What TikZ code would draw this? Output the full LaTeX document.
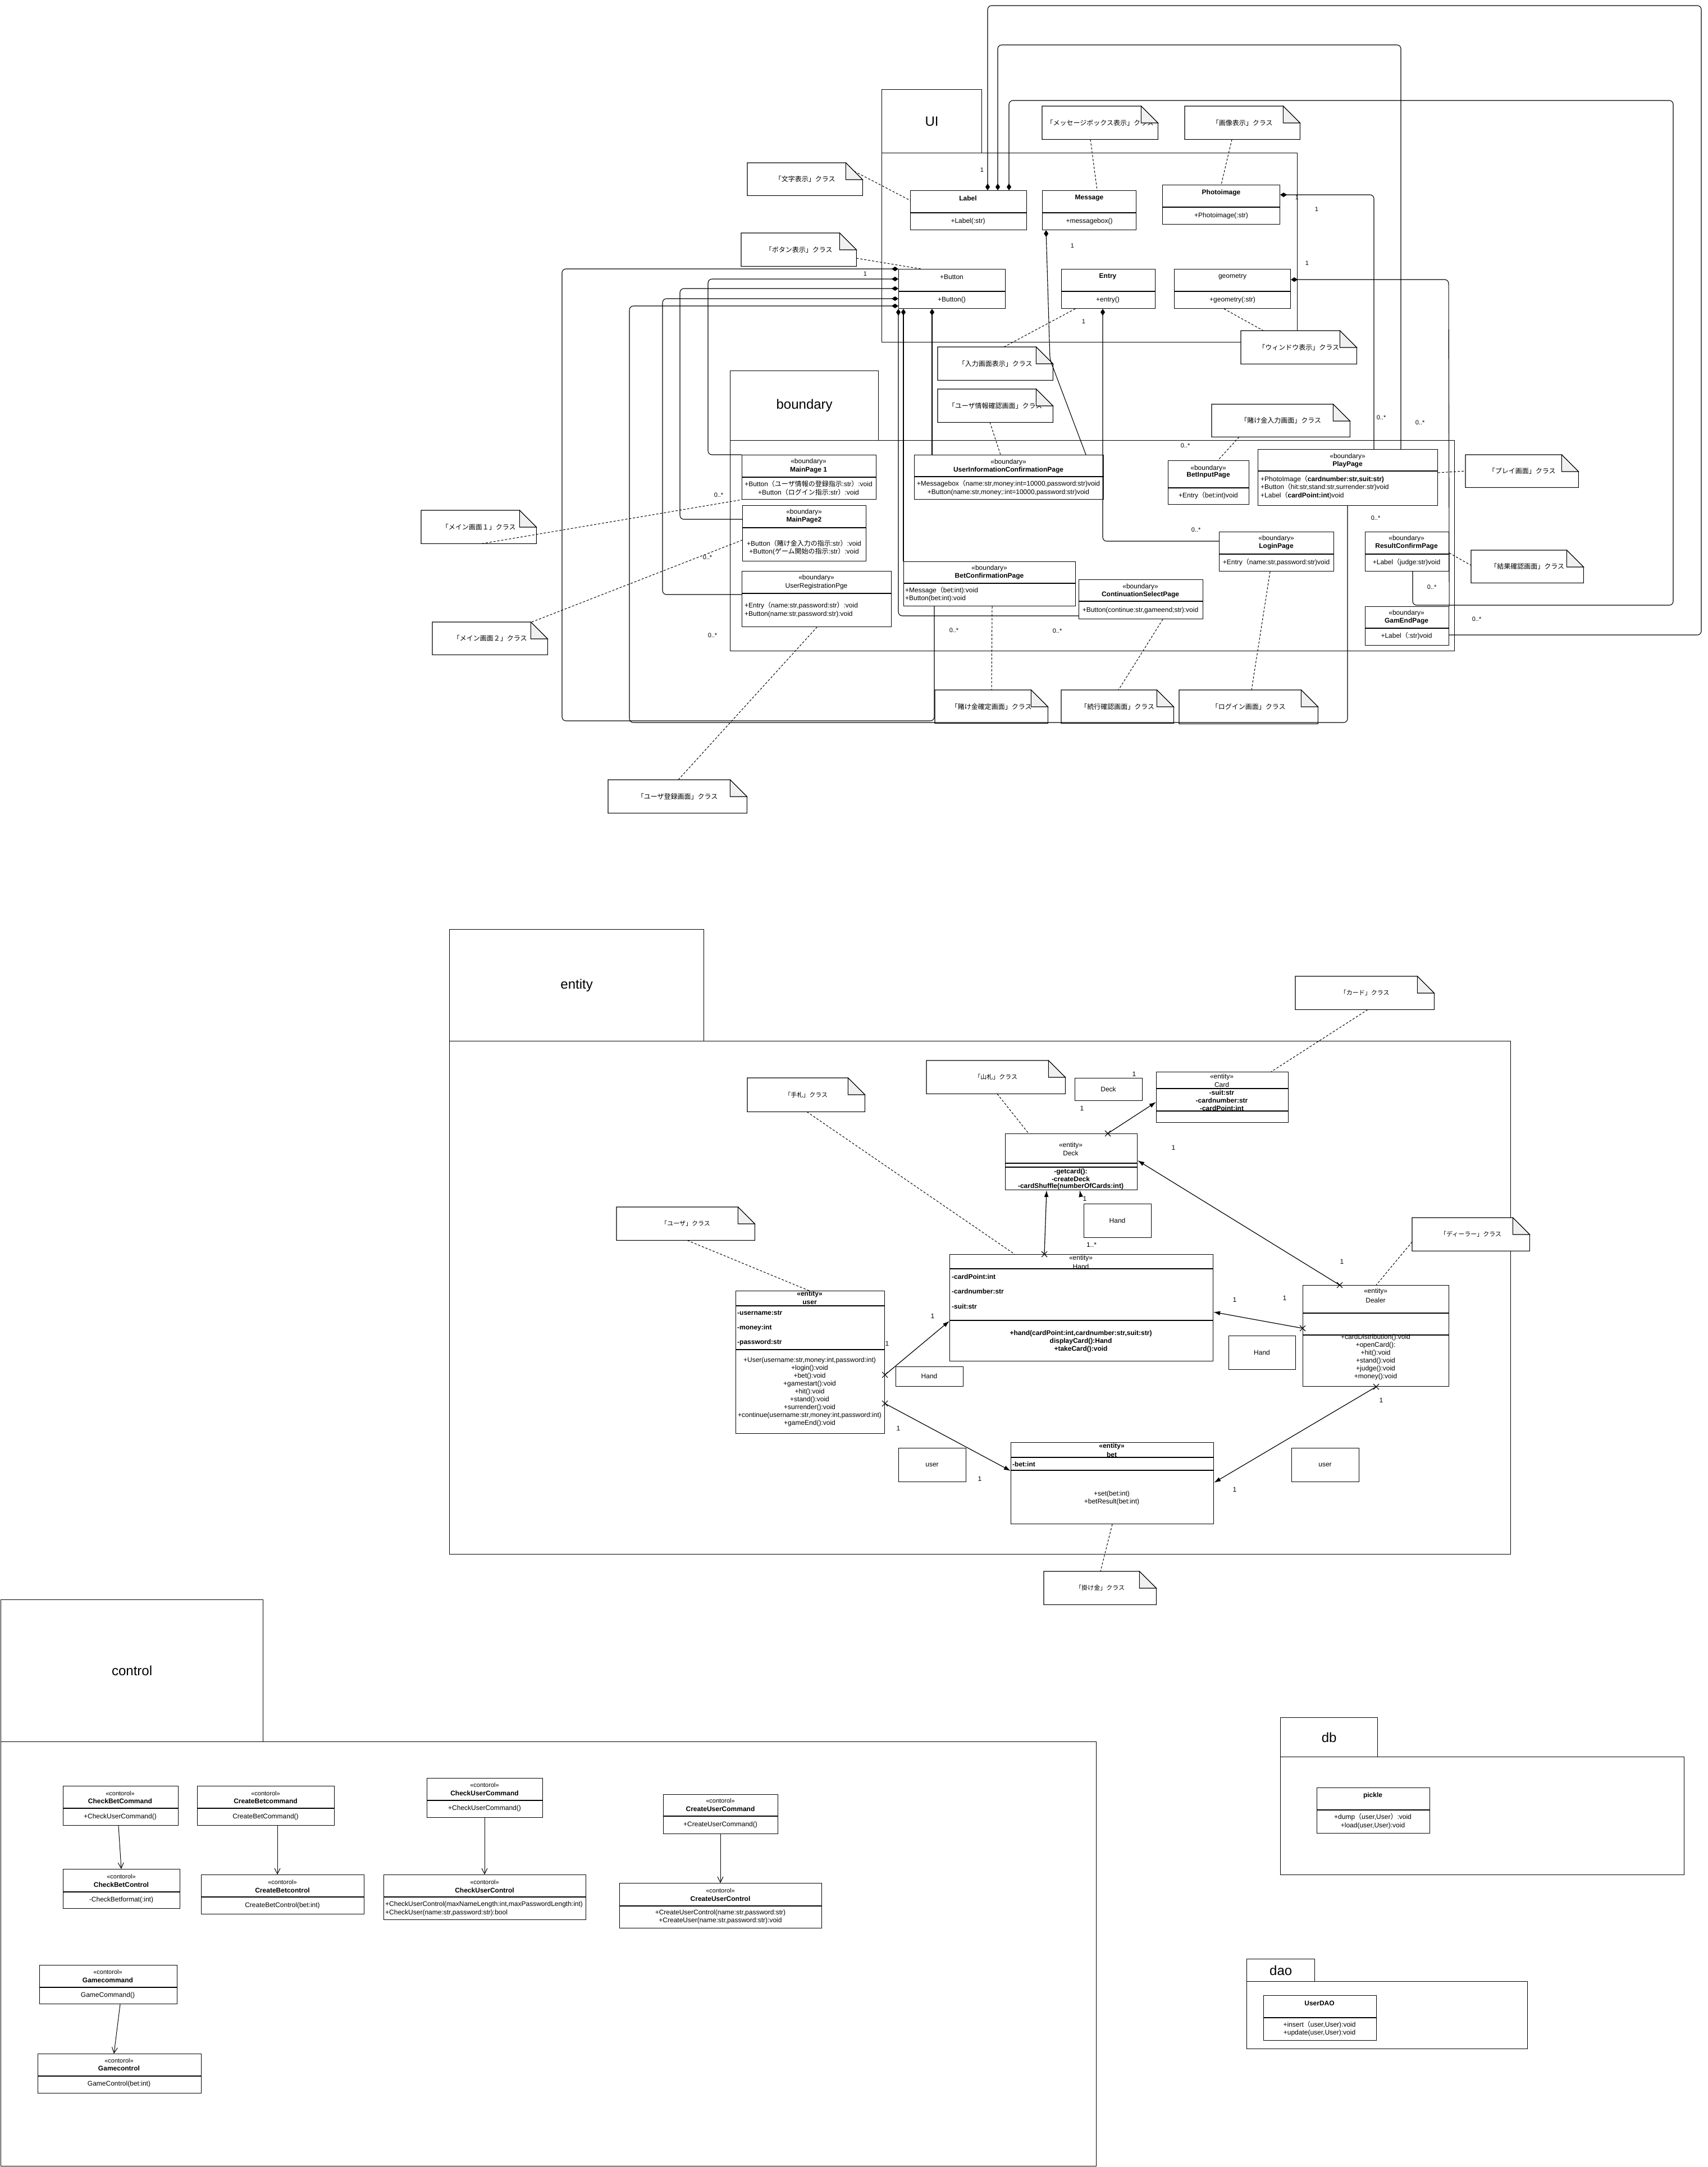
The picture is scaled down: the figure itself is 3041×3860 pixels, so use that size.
\documentclass[tikz,border=0pt]{standalone}
\usepackage{fontspec}
\setmainfont{Liberation Sans}
\newfontfamily\jp{Noto Sans CJK JP}
\usetikzlibrary{arrows.meta}

\newcounter{tn}
\newcommand\fs[1]{\fontsize{#1}{#1}\selectfont}
% text label: [options]{x,y}{text}
\newcommand\tx[3][]{\stepcounter{tn}\node[tx,#1] (tx\arabic{tn}) at (#2) {#3};}
% class box: name, x1, y1, x2, y2, divider ys
\newcommand\cls[6]{\node[box,minimum width={#4-#2},minimum height={#5-#3}] (#1) at (#2,#3) {};
  \foreach \dv in {#6} {\draw[divline] (#2,\dv) -- (#4,\dv);}}
% plain box with one centred word
\newcommand\plainbox[6]{\node[box,minimum width={#4-#2},minimum height={#5-#3}] (#1) at (#2,#3) {};
  \tx{{(#2+#4)/2},{(#3+#5)/2}}{#6}}
% package frame part
\newcommand\pkg[6]{\node[pkg,minimum width={#4-#2},minimum height={#5-#3}] (#1) at (#2,#3) {#6};}
% note with folded corner
\newcommand\note[6]{%
  \node[notebg,minimum width={#4-#2},minimum height={#5-#3}] (#1) at (#2,#3) {#6};
  \draw[noteline] (#1.north west) -- ([xshift=-30pt]#1.north east) -- ([yshift=-30pt]#1.north east)
     -- (#1.south east) -- (#1.south west) -- cycle;
  \filldraw[noteline,fill=gray!12] ([xshift=-30pt]#1.north east) -- ([xshift=-30pt,yshift=-30pt]#1.north east)
     -- ([yshift=-30pt]#1.north east) -- cycle;}

\tikzset{
  box/.style={draw,line width=1.1pt,fill=white,inner sep=0pt,anchor=north west},
  divline/.style={line width=1.1pt},
  pkg/.style={draw,line width=1.3pt,inner sep=0pt,anchor=north west,font=\fs{24}},
  notebg/.style={fill=white,inner sep=0pt,anchor=north west,font=\jp\fs{12}},
  noteline/.style={line width=1.1pt},
  tx/.style={inner sep=0pt,font=\fs{12}},
  comp/.style={line width=1.1pt,rounded corners=7pt,-{Diamond[length=12pt,width=8pt]}},
  assoc/.style={line width=1.2pt,-{Latex[length=12pt,width=8pt]}},
  dep/.style={line width=1pt,-{Straight Barb[length=10pt,width=10pt]}},
  notecon/.style={line width=1pt,dash pattern=on 4pt off 3pt},
  xmark/.pic={\draw[line width=1.1pt] (-5pt,-5pt) -- (5pt,5pt) (-5pt,5pt) -- (5pt,-5pt);}
}

\begin{document}
\begin{tikzpicture}[x=1pt,y=-1pt]
\useasboundingbox (0,0) rectangle (3041,3860);

% ---------------- packages ----------------
\pkg{uitab}{1570}{159}{1748}{272}{UI}
\pkg{uibody}{1570}{272}{2310}{609}{}
\pkg{bdtab}{1300}{660}{1564}{784}{boundary}
\pkg{bdbody}{1300}{784}{2590}{1159}{}
\pkg{entab}{800}{1655}{1253}{1854}{entity}
\pkg{enbody}{800}{1854}{2690}{2768}{}
\pkg{cttab}{1}{2849}{468}{3102}{control}
\pkg{ctbody}{1}{3102}{1952}{3858}{}
\pkg{dbtab}{2280}{3059}{2453}{3129}{db}
\pkg{dbbody}{2280}{3129}{2999}{3339}{}
\pkg{daotab}{2220}{3489}{2341}{3529}{dao}
\pkg{daobody}{2220}{3529}{2720}{3649}{}

% ---------------- notes ----------------
\note{n1}{1856}{189}{2062}{248}{「メッセージボックス表示」クラス}
\note{n2}{2110}{189}{2315}{248}{「画像表示」クラス}
\note{n3}{1331}{290}{1536}{348}{「文字表示」クラス}
\note{n4}{1320}{415}{1525}{474}{「ボタン表示」クラス}
\note{n5}{2210}{589}{2416}{648}{「ウィンドウ表示」クラス}
\note{n6}{1670}{618}{1875}{677}{「入力画面表示」クラス}
\note{n7}{1670}{693}{1875}{752}{「ユーザ情報確認画面」クラス}
\note{n8}{2158}{720}{2404}{778}{「賭け金入力画面」クラス}
\note{n9}{2610}{810}{2811}{868}{「プレイ画面」クラス}
\note{n10}{2620}{980}{2820}{1038}{「結果確認画面」クラス}
\note{n11}{2100}{1229}{2347}{1289}{「ログイン画面」クラス}
\note{n12}{1890}{1229}{2090}{1288}{「続行確認画面」クラス}
\note{n13}{1665}{1229}{1866}{1288}{「賭け金確定画面」クラス}
\note{n14}{750}{909}{955}{968}{「メイン画面１」クラス}
\note{n15}{770}{1108}{975}{1166}{「メイン画面２」クラス}
\note{n16}{1083}{1389}{1330}{1448}{「ユーザ登録画面」クラス}
\note{e1}{2307}{1739}{2554}{1798}{\fs{11}「カード」クラス}
\note{e2}{1650}{1889}{1897}{1948}{\fs{11}「山札」クラス}
\note{e3}{1331}{1920}{1540}{1980}{\fs{11}「手札」クラス}
\note{e4}{1098}{2150}{1344}{2209}{\fs{11}「ユーザ」クラス}
\note{e5}{2515}{2169}{2724}{2228}{\fs{11}「ディーラー」クラス}
\note{e6}{1859}{2799}{2059}{2858}{\fs{11}「掛け金」クラス}

% ---------------- UI classes ----------------
\cls{label}{1621}{339}{1828}{409}{379}
\cls{message}{1856}{339}{2023}{409}{379}
\cls{photo}{2070}{329}{2279}{399}{369}
\cls{button}{1600}{479}{1790}{549}{519}
\cls{entry}{1890}{479}{2057}{549}{519}
\cls{geom}{2091}{479}{2298}{549}{519}

% ---------------- boundary classes ----------------
\cls{mp1}{1321}{810}{1560}{889}{850}
\cls{mp2}{1322}{900}{1542}{999}{940}
\cls{urp}{1321}{1017}{1587}{1116}{1057}
\cls{uicp}{1628}{810}{1965}{889}{849}
\cls{bcp}{1609}{1000}{1915}{1079}{1039}
\cls{csp}{1921}{1032}{2142}{1102}{1071}
\cls{bip}{2080}{820}{2224}{898}{869}
\cls{play}{2240}{800}{2560}{900}{839}
\cls{login}{2171}{947}{2375}{1017}{987}
\cls{rcp}{2431}{947}{2580}{1017}{987}
\cls{gep}{2431}{1080}{2580}{1149}{1119}

% ---------------- entity classes ----------------
\cls{card}{2059}{1909}{2294}{1999}{1939,1979}
\cls{deck}{1790}{2019}{2025}{2119}{2072,2079}
\cls{hand}{1691}{2234}{2160}{2424}{2260,2352}
\cls{user}{1310}{2299}{1575}{2553}{2326,2404}
\cls{bet}{1800}{2569}{2161}{2714}{2596,2619}
\cls{dealer}{2320}{2289}{2580}{2469}{2339,2378}
\plainbox{decksm}{1914}{1920}{2034}{1960}{Deck}
\plainbox{handsma}{1930}{2144}{2050}{2204}{Hand}
\plainbox{handsmb}{1595}{2434}{1715}{2469}{Hand}
\plainbox{handsmc}{2188}{2379}{2307}{2439}{Hand}
\plainbox{usersma}{1600}{2579}{1720}{2639}{user}
\plainbox{usersmb}{2300}{2579}{2420}{2639}{user}

% ---------------- control classes ----------------
\cls{cbcmd}{112}{3181}{317}{3251}{3221}
\cls{crbcmd}{351}{3181}{595}{3251}{3221}
\cls{cucmd}{760}{3167}{966}{3237}{3207}
\cls{crucmd}{1181}{3196}{1385}{3266}{3235}
\cls{cbctl}{112}{3329}{320}{3399}{3370}
\cls{crbctl}{358}{3339}{648}{3409}{3379}
\cls{cuctl}{683}{3339}{1043}{3419}{3379}
\cls{cructl}{1103}{3354}{1463}{3434}{3395}
\cls{gcmd}{70}{3500}{315}{3569}{3540}
\cls{gctl}{67}{3658}{358}{3728}{3698}

% ---------------- db / dao classes ----------------
\cls{pickle}{2345}{3184}{2546}{3265}{3224}
\cls{userdao}{2250}{3554}{2451}{3634}{3594}

% ---------------- UI compositions ----------------
\draw[comp] (gep.east |- 0,1131) -- (3030,1131) -- (3030,10) -- (1759,10) -- (label.north -| 1759,0);
\draw[comp] (play.north -| 2495,0) -- (2495,80) -- (1777,80) -- (label.north -| 1777,0);
\draw[comp] (rcp.south -| 2516,0) -- (2516,1078) -- (2980,1078) -- (2980,179) -- (1797,179) -- (label.north -| 1797,0);
\draw[comp] (play.north -| 2447,0) -- (2447,347) -- (photo.east |- 0,347);
\draw[comp] (gep.north east) -- (2580,498) -- (geom.east |- 0,498);
\draw[comp] (bcp.south -| 1664,0) -- (1664,1284) -- (1001,1284) -- (1001,479) -- (button.north west);
\draw[comp] (mp1.north west) -- (1261,810) -- (1261,497) -- (button.west |- 0,497);
\draw[comp] (mp2.west |- 0,925) -- (1211,925) -- (1211,514) -- (button.west |- 0,514);
\draw[comp] (urp.west |- 0,1059) -- (1180,1059) -- (1180,532) -- (button.west |- 0,532);
\draw[comp] (play.south -| 2400,0) -- (2400,1287) -- (1121,1287) -- (1121,545) -- (button.west |- 0,545);
\draw[comp] (csp.west |- 0,1097) -- (1600,1097) -- (button.south west);
\draw[comp] (bcp.north -| 1609,0) -- (button.south -| 1609,0);
\draw[comp] (uicp.north -| 1660,0) -- (button.south -| 1660,0);
\draw[comp] (login.west |- 0,964) -- (1964,964) -- (entry.south -| 1964,0);
\draw[comp] (uicp.north -| 1934,0) -- (1870,640) -- (message.south -| 1863,0);

% ---------------- note links ----------------
\draw[notecon] (n1.south -| 1942,0) -- (message.north -| 1954,0);
\draw[notecon] (n2.south -| 2194,0) -- (photo.north -| 2175,0);
\draw[notecon] ([xshift=-15pt,yshift=-15pt]n3.north east) -- (label.west |- 0,357);
\draw[notecon] (n4.east |- 0,460) -- (button.north -| 1640,0);
\draw[notecon] (geom.south -| 2180,0) -- (n5.north -| 2250,0);
\draw[notecon] (entry.south -| 1915,0) -- (n6.north -| 1788,0);
\draw[notecon] (n7.south -| 1763,0) -- (uicp.north -| 1782,0);
\draw[notecon] (n8.south -| 2207,0) -- (bip.north -| 2169,0);
\draw[notecon] (play.east |- 0,842) -- (n9.west |- 0,839);
\draw[notecon] (rcp.east |- 0,985) -- (n10.west |- 0,1007);
\draw[notecon] (login.south -| 2262,0) -- (n11.north -| 2229,0);
\draw[notecon] (csp.south -| 2071,0) -- (n12.north -| 1992,0);
\draw[notecon] (bcp.south -| 1767,0) -- (n13.north -| 1766,0);
\draw[notecon] (n14.south -| 858,0) -- (mp1.south west);
\draw[notecon] (n15.north -| 947,0) -- (mp2.west |- 0,962);
\draw[notecon] (n16.north -| 1208,0) -- (urp.south -| 1455,0);
\draw[notecon] (e1.south -| 2436,0) -- (card.north -| 2264,0);
\draw[notecon] (e2.south -| 1776,0) -- (deck.north -| 1832,0);
\draw[notecon] (e3.south -| 1437,0) -- (hand.north -| 1807,0);
\draw[notecon] (e4.south -| 1224,0) -- (user.north -| 1441,0);
\draw[notecon] (e5.west |- 0,2212) -- (dealer.north -| 2451,0);
\draw[notecon] (bet.south -| 1981,0) -- (e6.north -| 1960,0);

% ---------------- entity associations ----------------
\draw[assoc] (deck.north -| 1973,0) -- (card.west |- 0,1963);
\pic at (deck.north -| 1973,0) {xmark};
\draw[assoc] (dealer.north -| 2386,0) -- (deck.east |- 0,2067);
\pic at (dealer.north -| 2386,0) {xmark};
\draw[assoc] (hand.north -| 1860,0) -- (deck.south -| 1864,0);
\pic at (hand.north -| 1860,0) {xmark};
\draw[assoc] (1925,2131) -- (deck.south -| 1923,0);
\draw[assoc] (user.east |- 0,2449) -- (hand.west |- 0,2353);
\pic at (user.east |- 0,2449) {xmark};
\draw[assoc] (user.east |- 0,2500) -- (bet.west |- 0,2620);
\pic at (user.east |- 0,2500) {xmark};
\draw[assoc] (dealer.west |- 0,2366) -- (hand.east |- 0,2337);
\pic at (dealer.west |- 0,2366) {xmark};
\draw[assoc] (dealer.south -| 2451,0) -- (bet.east |- 0,2641);
\pic at (dealer.south -| 2451,0) {xmark};

% ---------------- control dependencies ----------------
\draw[dep] (cbcmd.south -| 211,0) -- (cbctl.north -| 216,0);
\draw[dep] (crbcmd.south -| 494,0) -- (crbctl.north -| 494,0);
\draw[dep] (cucmd.south -| 863,0) -- (cuctl.north -| 863,0);
\draw[dep] (crucmd.south -| 1283,0) -- (cructl.north -| 1283,0);
\draw[dep] (gcmd.south -| 214,0) -- (gctl.north -| 203,0);

% ---------------- UI class texts ----------------
\tx{1724,353}{\bfseries Label}
\tx{1724,394}{+Label(:str)}
\tx{1940,353}{\bfseries Message}
\tx{1940,394}{+messagebox()}
\tx{2175,343}{\bfseries Photoimage}
\tx{2175,384}{+Photoimage(:str)}
\tx{1695,493}{+Button}
\tx{1695,534}{+Button()}
\tx{1973,493}{\bfseries Entry}
\tx{1973,534}{+entry()}
\tx{2195,493}{geometry}
\tx{2195,534}{+geometry(:str)}

% ---------------- boundary class texts ----------------
\tx{1440,822}{<<boundary>>}
\tx{1440,837}{\bfseries MainPage 1}
\tx{1440,862}{+Button{\jp （ユーザ情報の登録指示}:str{\jp ）}:void}
\tx{1440,877}{+Button{\jp （ログイン指示}:str{\jp ）}:void}
\tx{1432,912}{<<boundary>>}
\tx{1432,926}{\bfseries MainPage2}
\tx{1432,968}{+Button{\jp （賭け金入力の指示}:str{\jp ）}:void}
\tx{1432,983}{+Button({\jp ゲーム開始の指示}:str{\jp ）}:void}
\tx{1454,1029}{<<boundary>>}
\tx{1454,1044}{UserRegistrationPge}
\tx[anchor=west]{1326,1079}{+Entry{\jp （}name:str,password:str{\jp ）}:void}
\tx[anchor=west]{1326,1094}{+Button(name:str,password:str):void}
\tx{1796,823}{<<boundary>>}
\tx{1796,837}{\bfseries UserInformationConfirmationPage}
\tx{1796,862}{+Messagebox{\jp （}name:str,money:int=10000,password:str)void}
\tx{1796,877}{+Button(name:str,money;:int=10000,password:str)void}
\tx{1762,1012}{<<boundary>>}
\tx{1762,1026}{\bfseries BetConfirmationPage}
\tx[anchor=west]{1612,1052}{+Message{\jp （}bet:int):void}
\tx[anchor=west]{1612,1066}{+Button(bet:int):void}
\tx{2031,1045}{<<boundary>>}
\tx{2031,1059}{\bfseries ContinuationSelectPage}
\tx{2031,1087}{+Button(continue:str,gameend;str):void}
\tx{2152,834}{<<boundary>>}
\tx{2152,847}{\bfseries BetInputPage}
\tx{2152,883}{+Entry{\jp （}bet:int)void}
\tx{2400,813}{<<boundary>>}
\tx{2400,827}{\bfseries PlayPage}
\tx[anchor=west]{2245,854}{+PhotoImage{\jp （}\textbf{cardnumber:str,suit:str)}}
\tx[anchor=west]{2245,868}{+Button{\jp （}hit:str,stand:str,surrender:str)void}
\tx[anchor=west]{2245,883}{+Label{\jp （}\textbf{cardPoint:int})void}
\tx{2273,959}{<<boundary>>}
\tx{2273,973}{\bfseries LoginPage}
\tx{2273,1002}{+Entry{\jp （}name:str,password:str)void}
\tx{2505,959}{<<boundary>>}
\tx{2505,973}{\bfseries ResultConfirmPage}
\tx{2505,1002}{+Label{\jp （}judge:str)void}
\tx{2505,1092}{<<boundary>>}
\tx{2505,1106}{\bfseries GamEndPage}
\tx{2505,1133}{+Label{\jp （}:str)void}

% ---------------- multiplicities (UI / boundary) ----------------
\tx[font=\fs{11}]{2630,1103}{0..*}
\tx[font=\fs{11}]{2529,753}{0..*}
\tx[font=\fs{11}]{2550,1046}{0..*}
\tx[font=\fs{11}]{2460,744}{0..*}
\tx[font=\fs{11}]{2450,923}{0..*}
\tx[font=\fs{11}]{2111,794}{0..*}
\tx[font=\fs{11}]{2130,944}{0..*}
\tx[font=\fs{11}]{1699,1123}{0..*}
\tx[font=\fs{11}]{1883,1124}{0..*}
\tx[font=\fs{11}]{1280,882}{0..*}
\tx[font=\fs{11}]{1260,993}{0..*}
\tx[font=\fs{11}]{1269,1132}{0..*}
\tx[font=\fs{11}]{1749,303}{1}
\tx[font=\fs{11}]{1541,488}{1}
\tx[font=\fs{11}]{1910,438}{1}
\tx[font=\fs{11}]{1930,573}{1}
\tx[font=\fs{11}]{2310,352}{1}
\tx[font=\fs{11}]{2345,373}{1}
\tx[font=\fs{11}]{2328,469}{1}

% ---------------- entity class texts ----------------
\tx{2176,1918}{«entity»}
\tx{2176,1932}{Card}
\tx{2176,1946}{\bfseries -suit:str}
\tx{2176,1960}{\bfseries -cardnumber:str}
\tx{2176,1974}{\bfseries -cardPoint:int}
\tx{1907,2040}{«entity»}
\tx{1907,2054}{Deck}
\tx{1907,2087}{\bfseries -getcard():}
\tx{1907,2100}{\bfseries -createDeck}
\tx{1907,2113}{\bfseries -cardShuffle(numberOfCards:int)}
\tx{1925,2241}{«entity»}
\tx{1925,2256}{Hand}
\tx[anchor=west]{1695,2274}{\bfseries -cardPoint:int}
\tx[anchor=west]{1695,2300}{\bfseries -cardnumber:str}
\tx[anchor=west]{1695,2327}{\bfseries -suit:str}
\tx{1925,2375}{\bfseries +hand(cardPoint:int,cardnumber:str,suit:str)}
\tx{1925,2389}{\bfseries displayCard():Hand}
\tx{1925,2403}{\bfseries +takeCard():void}
\tx{1442,2305}{\bfseries «entity»}
\tx{1442,2320}{\bfseries user}
\tx[anchor=west]{1313,2339}{\bfseries -username:str}
\tx[anchor=west]{1313,2365}{\bfseries -money:int}
\tx[anchor=west]{1313,2391}{\bfseries -password:str}
\tx{1442,2423}{+User(username:str,money:int,password:int)}
\tx{1442,2437}{+login():void}
\tx{1442,2451}{+bet():void}
\tx{1442,2465}{+gamestart():void}
\tx{1442,2479}{+hit():void}
\tx{1442,2493}{+stand():void}
\tx{1442,2507}{+surrender():void}
\tx{1442,2521}{+continue(username:str,money:int,password:int)}
\tx{1442,2535}{+gameEnd():void}
\tx{1980,2576}{\bfseries «entity»}
\tx{1980,2591}{\bfseries bet}
\tx[anchor=west]{1803,2608}{\bfseries -bet:int}
\tx{1980,2661}{+set(bet:int)}
\tx{1980,2675}{+betResult(bet:int)}
\tx{2450,2300}{«entity»}
\tx{2450,2316}{Dealer}
\tx{2450,2382}{+cardDistribution():void}
\tx{2450,2396}{+openCard():}
\tx{2450,2410}{+hit():void}
\tx{2450,2424}{+stand():void}
\tx{2450,2438}{+judge():void}
\tx{2450,2452}{+money():void}

% ---------------- multiplicities (entity) ----------------
\tx{2020,1913}{1}
\tx{1927,1974}{1}
\tx{2090,2044}{1}
\tx{1932,2135}{1}
\tx{1944,2217}{1..*}
\tx{1661,2344}{1}
\tx{1580,2393}{1}
\tx{1600,2544}{1}
\tx{1745,2634}{1}
\tx{2199,2315}{1}
\tx{2288,2312}{1}
\tx{2390,2247}{1}
\tx{2460,2494}{1}
\tx{2199,2653}{1}

% ---------------- control class texts ----------------
\tx[font=\fs{11}]{214,3195}{<<contorol>>}
\tx{214,3208}{\bfseries CheckBetCommand}
\tx{214,3236}{+CheckUserCommand()}
\tx[font=\fs{11}]{473,3195}{<<contorol>>}
\tx{473,3208}{\bfseries CreateBetcommand}
\tx{473,3236}{CreateBetCommand()}
\tx[font=\fs{11}]{863,3180}{<<contorol>>}
\tx{863,3194}{\bfseries CheckUserCommand}
\tx{863,3221}{+CheckUserCommand()}
\tx[font=\fs{11}]{1283,3208}{<<contorol>>}
\tx{1283,3222}{\bfseries CreateUserCommand}
\tx{1283,3250}{+CreateUserCommand()}
\tx[font=\fs{11}]{216,3343}{<<contorol>>}
\tx{216,3357}{\bfseries CheckBetControl}
\tx{216,3384}{-CheckBetformat(:int)}
\tx[font=\fs{11}]{503,3353}{<<contorol>>}
\tx{503,3367}{\bfseries CreateBetcontrol}
\tx{503,3394}{CreateBetControl(bet:int)}
\tx[font=\fs{11}]{863,3353}{<<contorol>>}
\tx{863,3367}{\bfseries CheckUserControl}
\tx[anchor=west]{686,3392}{+CheckUserControl(maxNameLength:int,maxPasswordLength:int)}
\tx[anchor=west]{686,3407}{+CheckUser(name:str,password:str):bool}
\tx[font=\fs{11}]{1283,3368}{<<contorol>>}
\tx{1283,3382}{\bfseries CreateUserControl}
\tx{1283,3407}{+CreateUserControl(name:str,password:str)}
\tx{1283,3421}{+CreateUser(name:str,password:str):void}
\tx[font=\fs{11}]{192,3513}{<<contorol>>}
\tx{192,3527}{\bfseries Gamecommand}
\tx{192,3554}{GameCommand()}
\tx[font=\fs{11}]{212,3671}{<<contorol>>}
\tx{212,3684}{\bfseries Gamecontrol}
\tx{212,3712}{GameControl(bet:int)}

% ---------------- db / dao texts ----------------
\tx{2445,3198}{\bfseries pickle}
\tx{2445,3237}{+dump{\jp （}user,User{\jp ）}:void}
\tx{2445,3252}{+load(user,User):void}
\tx{2350,3568}{\bfseries UserDAO}
\tx{2350,3607}{+insert{\jp （}user,User):void}
\tx{2350,3621}{+update(user,User):void}

\end{tikzpicture}
\end{document}
